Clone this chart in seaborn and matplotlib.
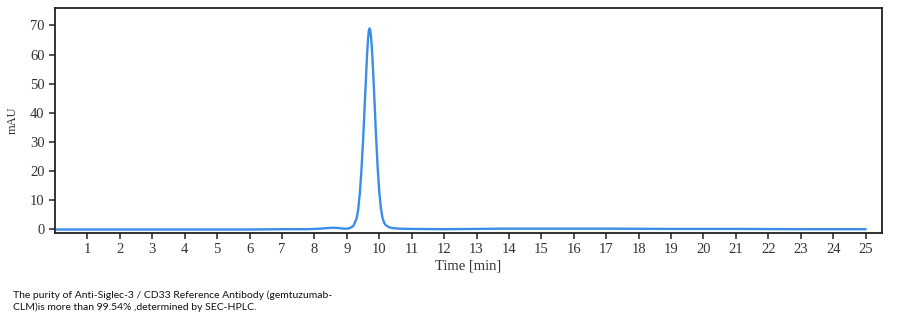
import matplotlib
matplotlib.use("Agg")
import matplotlib.pyplot as plt
import seaborn as sns
import pandas as pd

time_min = [0.05, 1.0, 2.0, 3.0, 4.0, 5.0, 6.0, 7.0, 7.8, 8.2, 8.4, 8.6, 8.75, 8.9, 9.0, 9.1, 9.2,
            9.3, 9.35, 9.4, 9.45, 9.5, 9.55, 9.6, 9.625, 9.65, 9.675, 9.7, 9.725, 9.75, 9.775,
            9.8, 9.85, 9.9, 9.95,
            10.0, 10.05, 10.1, 10.15, 10.2, 10.3, 10.4, 10.6, 11.0, 12.0, 13.0, 13.8, 15.0,
            17.0, 19.0, 21.0, 23.0, 25.0]
mau = [-0.2, -0.2, -0.2, -0.2, -0.2, -0.2, -0.2, -0.1, -0.1, 0.1, 0.3, 0.4, 0.3, 0.1, 0.1, 0.3, 1.0,
       3.5, 6.5, 12.0, 20.0, 30.0, 42.0, 54.0, 60.0, 64.5, 67.8, 69.0, 68.3, 65.8, 62.0,
       57.0, 45.0, 32.5, 21.5,
       13.0, 7.2, 3.9, 2.1, 1.3, 0.6, 0.3, 0.1, 0.0, -0.1, 0.0, 0.1, 0.1,
       0.1, 0.0, 0.0, -0.1, -0.1]
x_ticks = list(range(1, 26))
y_ticks = list(range(0, 71, 10))
caption = ("The purity of Anti-Siglec-3 / CD33 Reference Antibody (gemtuzumab-\n"
           "CLM)is more than 99.54% ,determined by SEC-HPLC.")

df = pd.DataFrame({"Time": time_min, "mAU": mau})

sns.set_style("white")
fig = plt.figure(figsize=(8.98, 3.22), dpi=100)
ax = fig.add_axes([0.0612, 0.2764, 0.9208, 0.6986])
sns.lineplot(data=df, x="Time", y="mAU", ax=ax, color="#3a8ee6", linewidth=1.7)

ax.set_xlim(0, 25.5)
ax.set_ylim(-1.4, 76)
ax.set_xticks(x_ticks)
ax.set_yticks(y_ticks)
ax.set_xticklabels([str(t) for t in x_ticks], family="Liberation Serif", fontsize=10.5, color="#333333")
ax.set_yticklabels([str(t) for t in y_ticks], family="Liberation Serif", fontsize=10.5, color="#333333")
ax.tick_params(axis="both", direction="out", length=4, width=1.2, color="#333333", bottom=True, left=True)
ax.set_xlabel("Time [min]", family="Liberation Serif", fontsize=10.5, color="#333333", labelpad=2)
ax.set_ylabel("mAU", family="Liberation Serif", fontsize=9, color="#333333", labelpad=8)
for s in ax.spines.values():
    s.set_color("#222222")
    s.set_linewidth(1.3)

fig.text(13/898, 1 - 290/322, caption, family="Lato", fontsize=7.5, va="top", ha="left",
         color="#111111", linespacing=1.45)

fig.savefig("out.png", dpi=100)
